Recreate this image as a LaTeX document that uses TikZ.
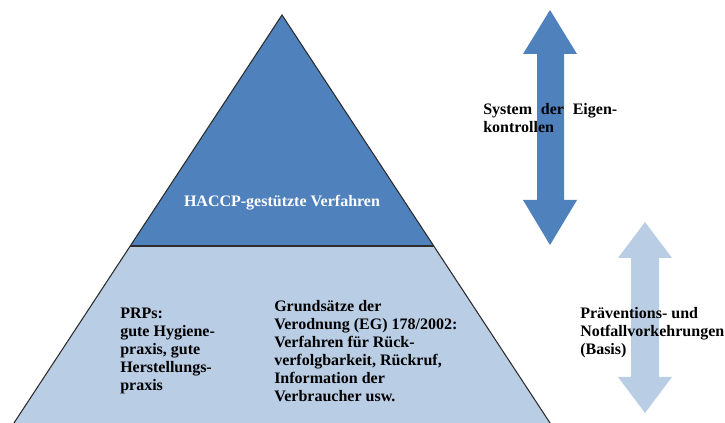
\documentclass[tikz,border=0pt]{standalone}
\usepackage{fontspec}
\setmainfont{Liberation Serif}
\usepackage{tikz}
\definecolor{pyramidblue}{RGB}{79,129,189}
\definecolor{paleblue}{RGB}{185,205,229}
\definecolor{edgegray}{RGB}{45,45,45}

\begin{document}
\begin{tikzpicture}[x=0.75pt,y=-0.75pt,font={\fontsize{12}{13.5}\selectfont\bfseries}]
        \useasboundingbox (0,0) rectangle (725,423);

        % pyramid
        \coordinate (apex) at (282,15);
        \coordinate (baseL) at (12,426);
        \coordinate (baseR) at (552,426);
        \coordinate (midL) at (130,246);
        \coordinate (midR) at (434,246);
        \fill[paleblue] (midL) -- (midR) -- (baseR) -- (baseL) -- cycle;
        \fill[pyramidblue] (apex) -- (midR) -- (midL) -- cycle;
        \draw[edgegray,line width=0.8pt] (midL) -- (midR);
        \draw[edgegray,line width=0.8pt] (baseL) -- (apex) -- (baseR);

        % double arrows
        \fill[pyramidblue] (550,10) -- (577,54) -- (564,54) -- (564,200) -- (577,200) -- (550,245)
            -- (523,200) -- (537,200) -- (537,54) -- (523,54) -- cycle;
        \fill[paleblue] (645,222) -- (672,258) -- (659,258) -- (659,377) -- (672,377) -- (645,413)
            -- (618,377) -- (631,377) -- (631,258) -- (618,258) -- cycle;

        % pyramid labels
        \node[white] (haccp) at (282,203) {HACCP-gestützte Verfahren};
        \node[anchor=north west,inner sep=0,align=left] (prps) at (120,307.5)
            {PRPs:\\gute Hygiene-\\praxis, gute\\Herstellungs-\\praxis};
        \node[anchor=north west,inner sep=0,align=left] (grundsaetze) at (274,300.5)
            {Grundsätze der\\Verodnung (EG) 178/2002:\\Verfahren für Rück-\\verfolgbarkeit, Rückruf,\\Information der\\Verbraucher usw.};

        % arrow labels
        \node[anchor=north west,inner sep=0,align=left] (eigen) at (483,103)
            {\makebox[100.5pt][s]{System der Eigen-}\\kontrollen};
        \node[anchor=north west,inner sep=0,align=left] (basis) at (580,307)
            {Präventions- und\\Notfallvorkehrungen\\(Basis)};
    \end{tikzpicture}
\end{document}
